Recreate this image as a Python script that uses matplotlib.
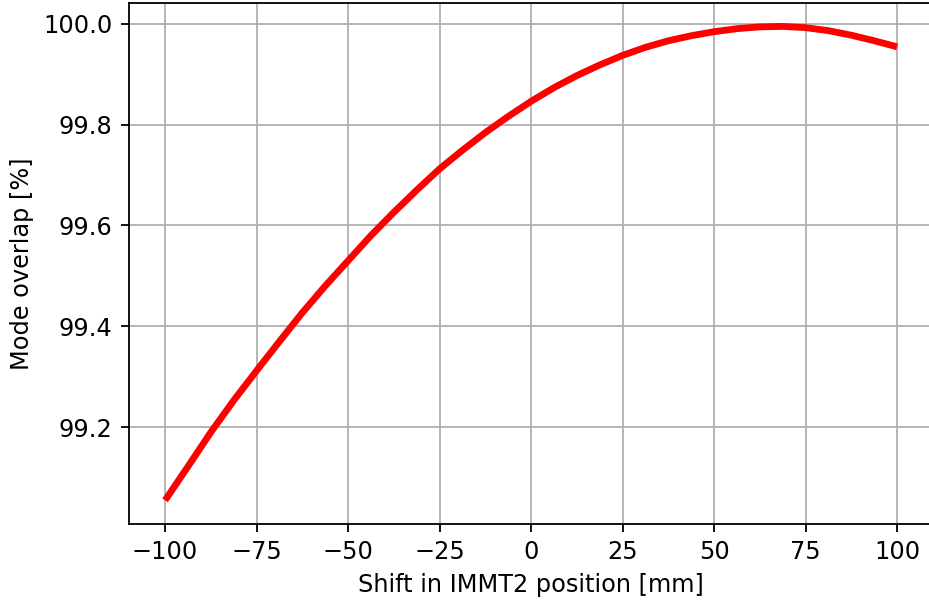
import matplotlib
matplotlib.use("Agg")
import matplotlib.pyplot as plt

# Shift in IMMT2 position [mm]
shift_mm = [-100, -93.75, -87.5, -81.25, -75, -68.75, -62.5, -56.25, -50,
            -43.75, -37.5, -31.25, -25, -18.75, -12.5, -6.25, 0,
            6.25, 12.5, 18.75, 25, 31.25, 37.5, 43.75, 50,
            56.25, 62.5, 68.75, 75, 81.25, 87.5, 93.75, 100]
# Mode overlap [%]
overlap_pct = [99.055, 99.122, 99.190, 99.253, 99.312, 99.370, 99.427, 99.480, 99.530,
               99.580, 99.626, 99.670, 99.712, 99.749, 99.784, 99.816, 99.846,
               99.873, 99.897, 99.918, 99.937, 99.953, 99.966, 99.976, 99.984,
               99.990, 99.9935, 99.9945, 99.992, 99.986, 99.977, 99.966, 99.954]

xticks = [-100, -75, -50, -25, 0, 25, 50, 75, 100]
yticks = [99.2, 99.4, 99.6, 99.8, 100.0]

DPI = 163
plt.rcParams["font.size"] = 10.6
fig = plt.figure(figsize=(929 / DPI, 601 / DPI), dpi=DPI)
ax = fig.add_axes([128.5 / 929, 1 - 524 / 601, (933.7 - 128.5) / 929, (524 - 2.7) / 601])

ax.plot(shift_mm, overlap_pct, color="red", linewidth=3, solid_capstyle="butt")
ax.set_xticks(xticks)
ax.set_yticks(yticks)
ax.set_xlim(-110, 110)
ax.grid(True)
ax.set_xlabel("Shift in IMMT2 position [mm]")
ax.set_ylabel("Mode overlap [%]")

fig.savefig("out.png", dpi=DPI)
